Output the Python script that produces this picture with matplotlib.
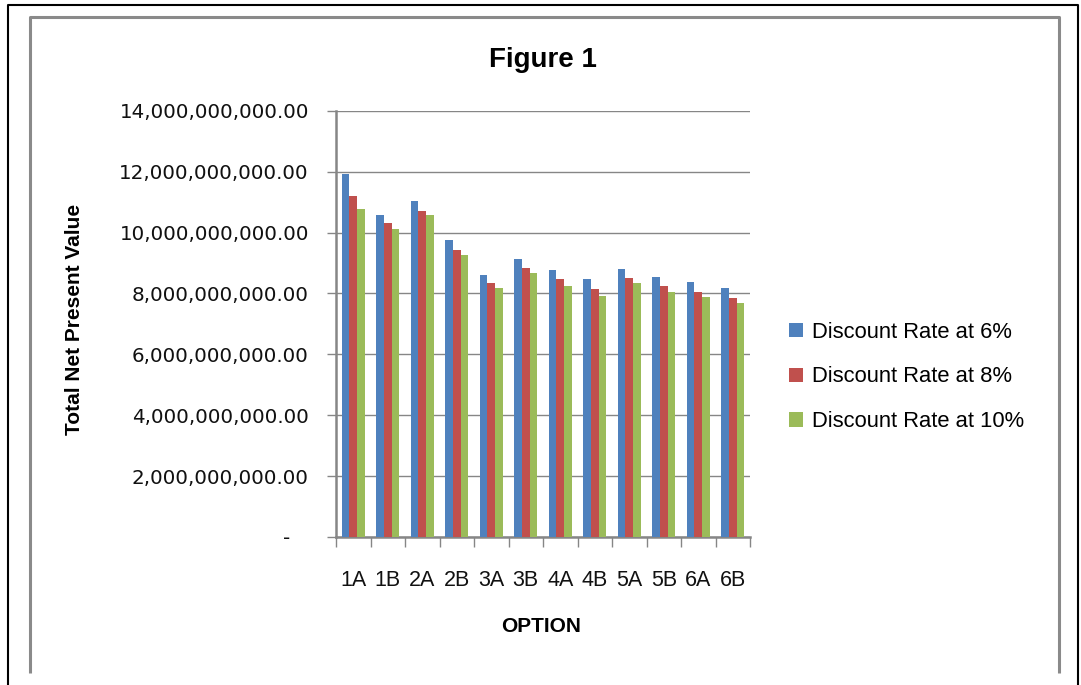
import numpy as np
import matplotlib
matplotlib.use("Agg")
from matplotlib import pyplot as plt
from matplotlib.lines import Line2D
from matplotlib.ticker import FuncFormatter

options = ['1A', '1B', '2A', '2B', '3A', '3B', '4A', '4B', '5A', '5B', '6A', '6B']
# total NPV, billions
rate_6 = [11.91, 10.59, 11.02, 9.74, 8.62, 9.14, 8.78, 8.48, 8.81, 8.55, 8.39, 8.19]
rate_8 = [11.19, 10.30, 10.72, 9.44, 8.35, 8.85, 8.48, 8.15, 8.52, 8.25, 8.05, 7.86]
rate_10 = [10.76, 10.13, 10.56, 9.27, 8.19, 8.68, 8.25, 7.92, 8.35, 8.05, 7.89, 7.69]
series_names = ['Discount Rate at 6%', 'Discount Rate at 8%', 'Discount Rate at 10%']
colors = ['#4F81BD', '#C0504D', '#9BBB59']

W, H = 1081, 685
fig = plt.figure(figsize=(W / 100, H / 100), dpi=100)

def fx(px):
    return px / W

def fy(py):
    return 1 - py / H

ax = fig.add_axes([fx(336), fy(537), fx(750) - fx(336), fy(110.7) - fy(537)])

x = np.arange(len(options))
bw = 0.223
for i, (vals, name) in enumerate(zip([rate_6, rate_8, rate_10], series_names)):
    ax.bar(x + (i - 1) * bw, np.array(vals) * 1e9, width=bw, color=colors[i],
           label=name, zorder=3)

ax.set_xlim(-0.5, len(options) - 0.5)
ax.set_ylim(0, 14e9)
ax.set_yticks(np.arange(0, 14.1e9, 2e9))
ax.yaxis.set_major_formatter(FuncFormatter(lambda v, p: '-   ' if v == 0 else f'{v:,.2f}'))
ax.grid(axis='y', color='#868686', linewidth=1.0, zorder=0)

grey = '#868686'
for s in ['top', 'right']:
    ax.spines[s].set_visible(False)
ax.spines['left'].set_color(grey)
ax.spines['left'].set_linewidth(1.8)
ax.spines['bottom'].set_color(grey)
ax.spines['bottom'].set_linewidth(1.8)

ax.tick_params(axis='y', length=6.5, width=1.0, color=grey, pad=13,
               labelsize=14.3, labelcolor='#111111')
for t in ax.get_yticklabels():
    t.set_family('DejaVu Sans')

ax.set_xticks(x)
ax.set_xticklabels(options, family=['Liberation Sans', 'DejaVu Sans'],
                   fontsize=15.5, color='#111111')
ax.set_xticks(np.arange(-0.5, len(options)), minor=True)
ax.tick_params(axis='x', which='major', length=0, pad=24)
ax.tick_params(axis='x', which='minor', length=7.2, width=1.0, color=grey)

leg = ax.legend(loc='center left', bbox_to_anchor=(fx(789), fy(377)),
                bbox_transform=fig.transFigure, frameon=False,
                prop={'family': ['Liberation Sans', 'DejaVu Sans'], 'size': 15.8},
                handlelength=0.62, handleheight=0.62, handletextpad=0.45,
                labelspacing=1.08, borderpad=0, borderaxespad=0)

fig.text(fx(543), fy(60), 'Figure 1', ha='center', va='center', fontsize=20,
         fontweight='bold', family=['Liberation Sans', 'DejaVu Sans'])
fig.text(fx(75), fy(319), 'Total Net Present Value', ha='center', va='center',
         rotation=90, fontsize=15, fontweight='bold',
         family=['Liberation Sans', 'DejaVu Sans'])
fig.text(fx(541), fy(627), 'OPTION', ha='center', va='center', fontsize=15,
         fontweight='bold', family=['Liberation Sans', 'DejaVu Sans'])

# chart frames
def frame_line(xs, ys, color, lw):
    fig.add_artist(Line2D([fx(v) for v in xs], [fy(v) for v in ys],
                          transform=fig.transFigure, color=color, linewidth=lw,
                          solid_capstyle='butt'))

frame_line([8, 8, 1078, 1078], [685, 5, 5, 685], '#000000', 1.5)
frame_line([29.5, 29.5, 1059, 1059], [673, 17, 17, 673], '#8a8a8a', 2.2)

fig.savefig('out.png', dpi=100)
